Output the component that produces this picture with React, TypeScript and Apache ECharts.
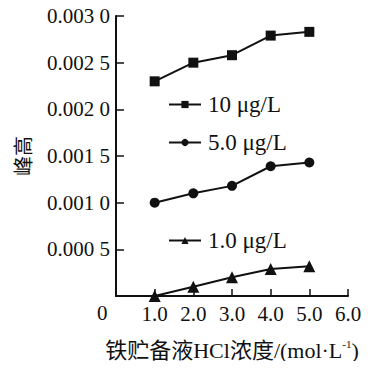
import React, { useEffect, useRef } from "react";
import * as echarts from "echarts";

const xValues = [1.0, 2.0, 3.0, 4.0, 5.0];
const seriesNames = ["10 μg/L", "5.0 μg/L", "1.0 μg/L"];
const s10 = [0.0023, 0.0025, 0.00258, 0.00279, 0.00283];
const s5 = [0.001, 0.0011, 0.00118, 0.00139, 0.00143];
const s1 = [0.0, 0.0001, 0.0002, 0.00029, 0.00032];
const symbols = ["rect", "circle", "triangle"];
const symbolSizes = [10, 10, 12];

const SERIF = "'Liberation Serif', 'Times New Roman', 'Noto Sans CJK SC', serif";

export default function App() {
  const ref = useRef<HTMLDivElement>(null);
  useEffect(() => {
    if (!ref.current) return;
    const chart = echarts.init(ref.current, null, { renderer: "svg" });
    const data = [s10, s5, s1];
    const legendTops = [93, 131, 229];
    chart.setOption({
      animation: false,
      backgroundColor: "#ffffff",
      textStyle: { fontFamily: SERIF, color: "#111" },
      grid: { left: 116, top: 16, right: 39, bottom: 73, containLabel: false },
      legend: seriesNames.map((n, i) => ({
        data: [n],
        left: 168,
        top: legendTops[i],
        padding: 0,
        itemWidth: 32,
        itemHeight: 9,
        itemGap: 0,
        textStyle: { fontFamily: SERIF, fontSize: 23, color: "#111", padding: [0, 0, 0, 2] },
      })),
      xAxis: {
        type: "value",
        min: 0,
        max: 6,
        interval: 1,
        name: "{a|铁贮备液HCl浓度/(mol·L}{s|-1}{a|)}",
        nameLocation: "middle",
        nameGap: 42,
        nameTextStyle: {
          rich: {
            a: { fontFamily: SERIF, fontSize: 22, color: "#111", lineHeight: 24 },
            s: { fontFamily: SERIF, fontSize: 11, color: "#111", verticalAlign: "top", lineHeight: 24 },
          },
        },
        axisLine: { lineStyle: { color: "#111", width: 2 } },
        axisTick: { inside: true, length: 7, lineStyle: { color: "#111", width: 1.5 } },
        splitLine: { show: false },
        axisLabel: {
          fontFamily: SERIF,
          fontSize: 21,
          color: "#111",
          margin: 7,
          formatter: (v: number) => (v === 0 ? "" : v.toFixed(1)),
        },
      },
      yAxis: {
        type: "value",
        min: 0,
        max: 0.003,
        interval: 0.0005,
        name: "峰高",
        nameLocation: "middle",
        nameGap: 84,
        nameTextStyle: { fontFamily: "'Noto Sans CJK SC', sans-serif", fontSize: 20, color: "#111" },
        axisLine: { show: true, lineStyle: { color: "#111", width: 2 } },
        axisTick: { show: true, inside: true, length: 8, lineStyle: { color: "#111", width: 1.5 } },
        splitLine: { show: false },
        axisLabel: {
          fontFamily: SERIF,
          fontSize: 21,
          color: "#111",
          margin: 6,
          formatter: (v: number) => {
            if (v === 0) return "";
            const s = v.toFixed(4);
            return s.slice(0, 5) + " " + s.slice(5);
          },
        },
      },
      graphic: [
        {
          type: "text",
          left: 97,
          top: 302,
          style: { text: "0", fontFamily: SERIF, fontSize: 21, fill: "#111" },
        },
      ],
      series: seriesNames.map((n, i) => ({
        name: n,
        type: "line",
        data: xValues.map((x, j) => [x, data[i][j]]),
        symbol: symbols[i],
        symbolSize: symbolSizes[i],
        showSymbol: true,
        itemStyle: { color: "#111" },
        lineStyle: { color: "#111", width: 2 },
      })),
    });
    return () => chart.dispose();
  }, []);
  return <div ref={ref} style={{ width: 387, height: 369, margin: -8 }} />;
}
